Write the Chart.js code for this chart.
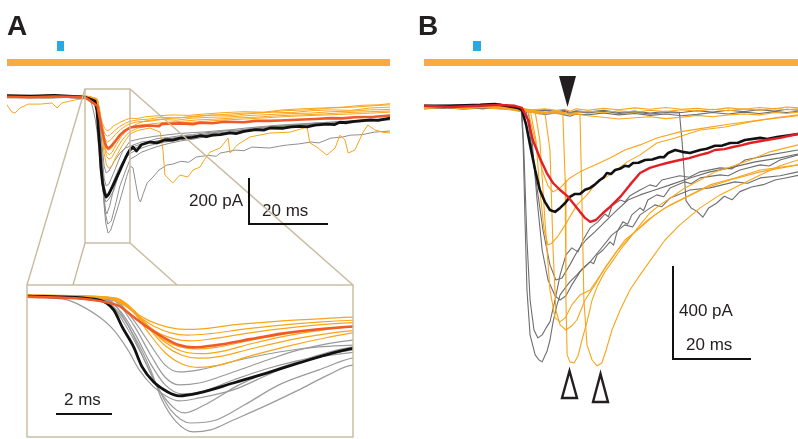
<!DOCTYPE html>
<html>
<head>
<meta charset="utf-8">
<script src="https://cdn.jsdelivr.net/npm/chart.js@4.4.1/dist/chart.umd.min.js"></script>
<style>
  html, body { margin: 0; padding: 0; background: #fff; width: 798px; height: 439px; overflow: hidden; }
  canvas { position: absolute; }
  svg { position: absolute; left: 0; top: 0; }
</style>
</head>
<body>
<canvas id="traceA" width="383" height="170" style="left:7px;top:80px;width:383px;height:170px"></canvas>
<canvas id="zoomA" width="326" height="152" style="left:27px;top:285px;width:326px;height:152px"></canvas>
<canvas id="traceB" width="374" height="300" style="left:424px;top:80px;width:374px;height:300px"></canvas>

<svg width="798" height="439" viewBox="0 0 798 439">
  <g font-family="'Liberation Sans', Arial, sans-serif" fill="#231f20">
    <text x="7" y="35" font-size="28" font-weight="bold">A</text>
    <text x="418" y="35" font-size="28" font-weight="bold">B</text>
    <text x="243" y="206" font-size="17" text-anchor="end">200 pA</text>
    <text x="262" y="216" font-size="17">20 ms</text>
    <text x="64" y="405" font-size="17">2 ms</text>
    <text x="679" y="316" font-size="17">400 pA</text>
    <text x="686" y="350" font-size="17">20 ms</text>
  </g>
  <rect x="57" y="41" width="7" height="10" fill="#27aae1"/>
  <rect x="473" y="41" width="8" height="10" fill="#27aae1"/>
  <rect x="7" y="59" width="383" height="7" fill="#f9ab40"/>
  <rect x="424" y="59" width="374" height="7" fill="#f9ab40"/>
  <g stroke="#c9ba9e" stroke-width="1.4" fill="none">
    <rect x="85" y="89" width="45" height="154"/>
    <line x1="85" y1="89" x2="27" y2="285"/>
    <line x1="130" y1="89" x2="353" y2="285"/>
    <line x1="85" y1="243" x2="73" y2="285"/>
    <line x1="130" y1="243" x2="177" y2="285"/>
    <rect x="27" y="285" width="326" height="152"/>
  </g>
  <g stroke="#111" stroke-width="2" fill="none">
    <polyline points="249,178 249,224 328,224"/>
    <line x1="56" y1="414" x2="112" y2="414"/>
    <polyline points="673,266 673,359 751,359"/>
  </g>
  <polygon points="559,76 576,76 567.5,107" fill="#231f20"/>
  <g stroke="#231f20" stroke-width="2.4" fill="none" stroke-linejoin="miter">
    <polygon points="562,398 577,398 569.5,371"/>
    <polygon points="593,402 608,402 600.5,374"/>
  </g>
</svg>

<script>
// panel A : [time ms, current pA]
const aBlack = [[0,2],[6,0],[12,3],[18,-2],[20,-6],[22.3,-22],[22.8,-65],[23.1,-139],[23.5,-226],[23.8,-313],[24.2,-378],[24.7,-422],[25.1,-439],[25.8,-426],[27,-383],[28.2,-339],[29.3,-296],[30.5,-252],[31.2,-232],[31.9,-222],[32.8,-239],[34,-212],[36.2,-200],[38,-204],[40,-190],[42,-192],[43.8,-183],[47,-180],[49,-172],[50.5,-176],[52,-170],[54,-168],[56.5,-160],[58,-163],[60,-154],[63,-146],[65,-148],[66.6,-139],[70,-140],[72,-134],[74.2,-132],[76,-134],[78,-126],[81,-122],[83,-124],[84.3,-114],[86,-116],[88,-110],[92,-104],[94,-106],[97,-96]]
const aRed = [[0,-3],[6,-5],[12,-2],[18,-4],[20,-8],[22.9,-43],[23.5,-96],[24.1,-150],[24.7,-195],[25.1,-218],[25.6,-228],[26.4,-218],[27.6,-192],[28.7,-168],[29.9,-150],[31.2,-137],[33,-132],[36,-128],[38.5,-131],[39.2,-121],[44,-119],[47,-122],[49,-116],[52,-118],[55,-112],[60,-114],[63,-108],[66.6,-108],[69,-106],[72,-104],[78,-100],[82,-96],[85,-97],[88,-92],[93,-90],[97,-85]]

const aGray1 = [[0,-8],[5,-5],[10,-10],[15,-6],[19,-12],[20,-10],[21.2,-22],[21.6,-43],[22.3,-96],[22.8,-152],[23.3,-239],[23.7,-326],[24.2,-400],[24.7,-444],[25.1,-461],[25.8,-448],[27,-413],[28.2,-348],[29.3,-291],[31.2,-239],[33,-222],[35,-205],[37,-200],[40,-188],[43,-180],[46,-170],[48,-174],[50,-165],[54,-156],[56,-160],[58,-152],[62,-144],[66,-138],[68,-142],[70,-130],[74,-126],[78,-118],[80,-122],[82,-116],[86,-110],[90,-106],[94,-102],[97,-100]]
const aGray2 = [[0,-5],[7,-2],[14,-6],[19,-4],[21,-6],[22.3,-20],[22.9,-65],[23.5,-174],[24.1,-326],[24.5,-457],[25,-552],[25.6,-596],[26.2,-587],[27,-544],[28.2,-478],[29.3,-413],[30.3,-350],[31.2,-305],[31.9,-312],[32.6,-380],[33.3,-445],[33.8,-461],[34.5,-425],[35.5,-378],[37,-352],[38.5,-322],[40.5,-300],[42,-296],[44,-284],[46,-288],[48,-265],[51,-258],[53,-262],[54,-248],[58,-235],[60,-238],[62,-222],[66.5,-226],[69,-218],[71,-213],[74,-208],[77,-200],[79,-204],[82,-183],[85,-178],[87,-170],[90,-168],[93,-157],[97,-152]]
const aGray3 = [[0,0],[6,3],[12,-2],[18,1],[21,-5],[22.5,-15],[23.1,-109],[23.7,-239],[24.3,-391],[24.8,-500],[25.5,-557],[26.4,-544],[27.4,-478],[28.6,-391],[30,-326],[31.2,-274],[32.5,-262],[34,-245],[36,-232],[38,-220],[41,-206],[44,-195],[47,-188],[50,-178],[53,-172],[57,-160],[60,-156],[64,-145],[68,-140],[72,-128],[76,-124],[80,-118],[84,-116],[88,-110],[92,-106],[97,-100]]
const aGray4 = [[0,-4],[6,-6],[12,-3],[18,-7],[21,-8],[22.6,-20],[23.3,-130],[23.8,-261],[24.4,-413],[25,-500],[25.3,-513],[26,-478],[27.2,-391],[28.6,-318],[30,-261],[31.2,-226],[33,-214],[35,-204],[38,-196],[41,-186],[44,-181],[47,-174],[50,-168],[54,-160],[58,-150],[62,-144],[66,-135],[70,-131],[74,-125],[78,-122],[82,-115],[86,-112],[90,-108],[94,-104],[97,-100]]
const aGray5 = [[0,-2],[6,-4],[12,0],[18,-3],[21,-4],[22.8,-25],[23.5,-130],[24.1,-261],[24.6,-357],[25.1,-391],[25.8,-383],[27,-335],[28.2,-283],[29.3,-239],[31.2,-196],[34,-185],[37,-176],[40,-170],[43,-164],[46,-160],[50,-156],[54,-150],[57,-146],[60,-140],[65,-132],[70,-125],[75,-120],[80,-115],[85,-110],[90,-105],[97,-98]]
const aGray6 = [[0,-5],[6,-3],[12,-6],[18,-4],[21,-6],[22.8,-20],[23.5,-109],[24.1,-218],[24.6,-304],[25.1,-335],[25.8,-326],[27.2,-283],[28.6,-248],[30,-226],[31.2,-218],[34,-200],[36,-196],[38,-185],[41,-180],[44,-172],[47,-168],[50,-160],[53,-156],[56,-150],[59,-148],[62,-140],[66,-134],[70,-128],[74,-124],[78,-118],[82,-116],[86,-110],[90,-108],[94,-104],[97,-98]]
const aGray7 = [[0,-6],[6,-9],[12,-4],[18,-8],[21,-10],[22.6,-25],[23.1,-80],[23.6,-180],[24.1,-300],[24.6,-390],[25.2,-430],[25.9,-420],[27,-370],[28.2,-320],[29.5,-280],[31.2,-250],[33,-232],[36,-215],[40,-200],[44,-190],[48,-178],[52,-170],[57,-158],[62,-150],[68,-140],[74,-130],[80,-122],[86,-115],[92,-110],[97,-104]]

const aOrange1 = [[0,-3],[5,2],[10,-4],[15,0],[19,-2],[21,-4],[22.5,-12],[23.1,-40],[23.6,-80],[24.1,-115],[24.7,-140],[25.3,-150],[26,-146],[27,-130],[28.5,-115],[30,-104],[31.2,-96],[33,-98],[35,-90],[38,-86],[42,-82],[46,-84],[50,-78],[55,-72],[60,-68],[65,-70],[70,-60],[75,-55],[80,-52],[85,-48],[90,-40],[94,-38],[97,-33]]
const aOrange2 = [[0,2],[5,-2],[10,3],[15,-1],[19,2],[21,-3],[22.6,-10],[23.2,-45],[23.7,-95],[24.2,-135],[24.8,-165],[25.4,-175],[26.2,-168],[27.3,-150],[28.6,-132],[30,-118],[31.2,-110],[33,-104],[36,-100],[39,-92],[43,-96],[47,-88],[52,-82],[57,-84],[62,-76],[67,-70],[72,-72],[77,-64],[82,-60],[87,-62],[92,-52],[97,-48]]
const aOrange3 = [[0,-4],[5,-1],[10,-6],[15,-2],[19,-5],[21,-6],[22.8,-15],[23.3,-55],[23.8,-110],[24.3,-160],[24.9,-190],[25.5,-200],[26.3,-190],[27.4,-168],[28.8,-145],[30.2,-128],[31.2,-120],[33,-112],[36,-110],[39,-102],[43,-105],[47,-96],[52,-92],[57,-90],[62,-84],[67,-80],[72,-76],[77,-74],[82,-68],[87,-66],[92,-60],[97,-58]]
const aOrange4 = [[0,0],[5,3],[10,-2],[15,2],[19,-1],[21,-4],[22.8,-12],[23.4,-60],[23.9,-125],[24.5,-190],[25.1,-225],[25.7,-235],[26.4,-228],[27.5,-200],[28.9,-168],[30.2,-148],[31.2,-138],[33,-128],[36,-122],[40,-115],[44,-110],[48,-104],[53,-100],[58,-95],[63,-92],[68,-86],[74,-82],[80,-78],[86,-72],[92,-68],[97,-65]]
const aOrange5 = [[0,-6],[5,-3],[10,-8],[15,-4],[19,-7],[21,-8],[23,-20],[23.5,-70],[24,-140],[24.6,-220],[25.2,-262],[25.8,-275],[26.5,-268],[27.6,-235],[29,-195],[30.3,-168],[31.2,-155],[33,-140],[36,-130],[40,-124],[45,-116],[50,-110],[55,-104],[60,-100],[66,-94],[72,-88],[78,-84],[84,-80],[90,-76],[97,-70]]
const aOrange6 = [[0,3],[5,0],[10,4],[15,1],[19,3],[21,-2],[22.9,-14],[23.5,-65],[24,-135],[24.6,-205],[25.2,-245],[25.9,-255],[26.6,-245],[27.7,-210],[29,-175],[30.3,-150],[31.2,-138],[33,-120],[35,-108],[38,-102],[42,-96],[46,-92],[50,-86],[55,-80],[60,-74],[65,-72],[70,-64],[76,-60],[82,-52],[88,-48],[93,-42],[97,-38]]
const aOrange7 = [[0,-39],[1.3,-70],[2,-74],[3.3,-52],[5.3,-35],[8.4,-35],[11.4,-30],[12.7,-52],[13.9,-30],[17.2,-17],[19.8,-9],[21,-8],[22.9,-18],[23.5,-75],[24,-160],[24.6,-250],[25.2,-300],[25.8,-315],[26.5,-305],[27.6,-265],[29,-220],[30.3,-185],[31.2,-165],[33,-150],[36.2,-139],[38.8,-157],[39.5,-235],[40,-344],[42,-378],[43.8,-344],[45.8,-352],[47.1,-322],[48.9,-309],[49.6,-287],[51.4,-244],[54,-226],[56,-183],[56.5,-248],[58.3,-213],[61.5,-178],[66.6,-161],[71.7,-157],[76,-135],[76.7,-204],[78.5,-222],[81,-257],[83.1,-226],[84.3,-170],[85.6,-191],[86.4,-248],[88.1,-235],[90.2,-157],[91.4,-126],[93.2,-148],[95.2,-157],[97,-161]]

// panel B : [time ms, current pA]
const bBlack = [[0,9],[6.7,9],[14.4,13],[18.2,17],[20.8,9],[24.1,0],[25.1,-9],[26.2,-73],[27.2,-159],[28.5,-267],[29.7,-353],[31,-404],[32.3,-439],[33.6,-447],[34.9,-430],[36.2,-409],[37.4,-383],[38.7,-370],[40,-370],[41.3,-352],[42.6,-344],[43.8,-330],[45.1,-310],[46,-300],[46.9,-280],[48,-284],[49,-267],[50.2,-262],[51.5,-249],[52.5,-252],[53.6,-237],[55,-236],[56.7,-224],[58.5,-222],[60.5,-211],[61.5,-212],[62.6,-194],[64.4,-181],[66.2,-189],[68.2,-194],[70.8,-181],[72.5,-176],[74.6,-163],[76.5,-162],[78.5,-151],[80.5,-150],[82.3,-138],[86.2,-129],[88,-134],[90.5,-125],[95.9,-112]]
const bRed = [[0,9],[6.7,4],[14.4,9],[19.5,13],[23.3,9],[25.1,0],[26.7,-52],[27.9,-138],[29.7,-215],[31.5,-280],[33.1,-323],[34.9,-353],[36.7,-378],[38.2,-409],[40,-447],[41.3,-473],[42.6,-490],[44.1,-482],[45.9,-452],[47.7,-426],[50.3,-383],[52.8,-331],[55.4,-280],[57.9,-258],[60.5,-245],[62.3,-237],[65.6,-224],[68,-216],[70.8,-202],[72.7,-194],[74.6,-181],[77,-177],[79.2,-168],[81.5,-160],[83.6,-151],[87.9,-138],[91.3,-129],[95.9,-112]]

const bGray1 = [[0,5],[5,10],[10,4],[15,12],[19,8],[22,4],[25,-5],[28,-12],[31,-8],[34,-16],[36,-10],[37.5,-20],[39,-12],[42,-18],[46,-10],[50,-20],[54,-14],[58,-22],[62,-15],[66,-20],[70,-12],[74,-18],[78,-10],[82,-16],[86,-8],[90,-14],[93,-6],[96,-10]]
const bGray2 = [[0,-4],[5,2],[10,-6],[15,0],[19,-2],[22,-6],[25,-14],[28,-20],[31,-28],[34,-22],[36,-30],[37.5,-36],[39,-26],[42,-30],[46,-22],[50,-30],[54,-24],[58,-32],[62,-26],[66,-34],[70,-28],[74,-20],[78,-26],[82,-18],[86,-24],[90,-16],[93,-20],[96,-14]]
const bGray3 = [[0,2],[5,-2],[10,6],[15,-4],[19,4],[22,0],[25,-8],[28,-16],[31,-10],[34,-20],[36,-14],[37.5,-24],[39,-16],[42,-22],[46,-14],[50,-24],[54,-18],[58,-26],[62,-20],[65.5,-22],[66.2,-150],[67.2,-400],[68.5,-430],[70,-445],[71.5,-470],[73,-430],[75,-410],[77,-380],[79,-395],[81,-360],[84,-340],[87,-330],[90,-310],[93,-300],[96,-290]]
const bGray4 = [[0,4],[14.4,9],[22.1,9],[24.9,0],[25.4,-138],[25.9,-482],[26.4,-783],[27.2,-976],[28.5,-1062],[29.5,-1084],[30.3,-1092],[31,-1066],[31.5,-1049],[32.3,-998],[33.1,-920],[34.1,-847],[34.9,-804],[36.2,-774],[37.4,-748],[39.2,-718],[40.8,-688],[42.6,-662],[43.5,-670],[44.4,-632],[45.9,-611],[47.7,-576],[48.6,-590],[49.5,-533],[51,-490],[52.2,-500],[53.3,-460],[55.4,-430],[56.3,-442],[57.4,-396],[59.7,-374],[61.5,-382],[63.1,-344],[66.9,-318],[68.5,-326],[70.8,-301],[75.9,-288],[78,-292],[81,-267],[86.2,-245],[88.5,-250],[91.3,-224],[95.9,-202]]
const bGray5 = [[0,0],[19.5,9],[25.1,-9],[25.6,-181],[26.4,-568],[27.2,-826],[28.2,-955],[29.2,-989],[30.3,-976],[31.3,-946],[32.3,-920],[33.6,-826],[34.9,-718],[36.4,-632],[37.9,-602],[39.5,-619],[40.8,-568],[42.6,-516],[44.6,-490],[46.4,-456],[47.3,-468],[48.2,-421],[50.3,-396],[51.5,-404],[52.8,-378],[55.4,-353],[57.9,-331],[59.5,-338],[61,-310],[65.6,-292],[68,-298],[70.8,-275],[75.9,-258],[79,-262],[82.3,-224],[88.7,-202],[95.9,-181]]
const bGray6 = [[0,4],[20.8,13],[26.7,-9],[27.7,-138],[29,-396],[30.3,-611],[31.8,-740],[33.6,-808],[34.9,-826],[36.4,-808],[37.9,-761],[40,-705],[42.6,-662],[45.1,-611],[48.2,-546],[51.5,-503],[53.5,-512],[55.4,-460],[59.2,-417],[61,-425],[63.1,-387],[68.2,-353],[73.3,-344],[79.7,-318],[83,-324],[86.2,-301],[91.3,-292],[95.9,-275]]
const bGray7 = [[0,9],[19.5,17],[26.2,-9],[27.2,-116],[28.7,-310],[30.5,-525],[32.3,-675],[33.8,-740],[35.4,-731],[37.4,-675],[39.5,-611],[41.5,-568],[43.8,-533],[46.4,-490],[49,-447],[52.3,-396],[55.4,-374],[59.2,-353],[63.1,-331],[68.2,-301],[73.3,-275],[78.5,-258],[84.9,-232],[91.3,-215],[95.9,-198]]

const bOrange1 = [[0,0],[5,6],[10,-4],[15,4],[19,0],[22,-4],[25,-10],[28,-18],[31,-22],[34,-14],[36,-22],[37.5,-30],[39,-26],[42,-34],[46,-40],[50,-48],[54,-42],[58,-38],[62,-46],[66,-40],[70,-32],[74,-38],[78,-30],[82,-26],[86,-30],[90,-20],[93,-24],[96,-18]]
const bOrange2 = [[0,8],[5,2],[10,10],[15,6],[19,12],[22,6],[25,-4],[28,-8],[31,-4],[34,-10],[36,-6],[37.5,-14],[39,-4],[42,-10],[46,-2],[50,-8],[54,0],[58,-6],[62,2],[66,-6],[70,-2],[74,-8],[78,0],[82,-6],[86,2],[90,-4],[93,4],[96,0]]
const bOrange3 = [[0,-2],[5,4],[10,-2],[15,2],[19,-4],[22,-8],[25,-16],[28,-10],[31,-18],[34,-12],[36,-20],[37.5,-28],[39,-20],[42,-14],[46,-20],[50,-12],[54,-18],[58,-10],[62,-16],[66,-8],[70,-14],[74,-6],[78,-12],[82,-4],[86,-10],[90,-2],[93,-8],[96,-4]]
const bOrange4 = [[0,4],[11.8,13],[20.8,9],[24.6,-9],[29.7,-26],[33.6,-17],[35.6,-26],[36.2,-310],[36.4,-826],[36.7,-1062],[37.4,-1092],[38.5,-1097],[39.5,-1066],[40.5,-998],[41.8,-920],[43.1,-826],[44.6,-761],[46.4,-705],[48.2,-662],[50.3,-611],[52.8,-559],[55.4,-503],[57.9,-452],[60.5,-417],[63.6,-383],[66.9,-344],[70.8,-310],[74.6,-275],[78.5,-254],[83.6,-224],[88.7,-189],[95.9,-159]]
const bOrange5 = [[0,0],[11.8,9],[20.8,4],[24.6,-9],[29.7,-17],[34.9,-26],[38.7,-22],[40,-30],[40.5,-396],[41,-826],[41.8,-1019],[43.1,-1084],[44.4,-1109],[45.6,-1097],[46.7,-1041],[48.2,-955],[50.3,-869],[52.8,-783],[55.4,-718],[58.5,-645],[61.8,-568],[65.6,-503],[70.8,-430],[75.9,-374],[81,-331],[86.2,-288],[91.3,-249],[95.9,-224]]
const bOrange6 = [[0,9],[14.4,4],[23.3,4],[27.2,-9],[28.7,-138],[29.7,-353],[30.8,-525],[31.8,-589],[32.8,-581],[34.4,-550],[36.2,-503],[39.2,-417],[41.8,-374],[44.4,-318],[47.7,-288],[52.1,-232],[55.4,-202],[59.7,-151],[64.4,-129],[70.8,-95],[77.2,-82],[83.6,-60],[90,-43],[95.9,-30]]
const bOrange7 = [[0,0],[14.4,9],[23.3,0],[26.7,-17],[28.5,-138],[30.3,-267],[31.8,-335],[33.1,-361],[34.9,-344],[37.4,-301],[40,-275],[43.8,-245],[47.7,-215],[51.5,-181],[55.4,-159],[59.7,-129],[65.6,-103],[72.1,-86],[78.5,-69],[86.2,-52],[95.9,-34]]
const bOrange8 = [[0,4],[19.5,9],[24.6,0],[28.5,-17],[29.7,-138],[31,-482],[32.3,-783],[33.6,-903],[34.9,-920],[36.2,-903],[37.9,-847],[40,-804],[42.6,-783],[45.1,-722],[48.2,-645],[51.5,-568],[55.4,-516],[59.2,-460],[63.1,-417],[68.2,-374],[73.3,-331],[79.7,-301],[86.2,-267],[95.9,-245]]
const bOrange9 = [[0,0],[19.5,4],[25.9,-9],[31,-22],[32.3,-181],[33.1,-611],[33.8,-869],[34.9,-933],[36.4,-955],[37.9,-937],[39.2,-912],[41.3,-826],[43.8,-761],[46.4,-688],[49.7,-611],[53.3,-546],[57.4,-482],[61.8,-430],[66.9,-387],[72.1,-344],[78.5,-310],[86.2,-275],[95.9,-245]]

const grayA = [aGray1, aGray2, aGray3, aGray4, aGray5, aGray6, aGray7]
const orangeA = [aOrange1, aOrange2, aOrange3, aOrange4, aOrange5, aOrange6, aOrange7]
const grayB = [bGray1, bGray2, bGray3, bGray4, bGray5, bGray6, bGray7]
const orangeB = [bOrange1, bOrange2, bOrange3, bOrange4, bOrange5, bOrange6, bOrange7, bOrange8, bOrange9]

const ORANGE = '#f9a51b'

function trace(points, color, width) {
    return {
        data: points.map(p => ({ x: p[0], y: p[1] })),
        borderColor: color,
        borderWidth: width,
        pointRadius: 0,
        fill: false,
    }
}

function drawTraces(id, datasets, xRange, yRange, smooth) {
    new Chart(document.getElementById(id), {
        type: 'line',
        data: { datasets: datasets },
        options: {
            responsive: false,
            animation: false,
            events: [],
            layout: { padding: 0 },
            elements: {
                line: {
                    tension: 0,
                    cubicInterpolationMode: smooth ? 'monotone' : 'default',
                    borderJoinStyle: 'round',
                    borderCapStyle: 'round',
                }
            },
            plugins: { legend: { display: false }, tooltip: { enabled: false } },
            scales: {
                x: { type: 'linear', display: false, min: xRange[0], max: xRange[1] },
                y: { type: 'linear', display: false, min: yRange[0], max: yRange[1] },
            }
        }
    })
}

// first dataset is painted on top
drawTraces('traceA', [
    trace(aRed, '#f05a28', 2.6),
    trace(aBlack, '#111', 2.8),
    ...orangeA.map(t => trace(t, ORANGE, 1)),
    ...grayA.map(t => trace(t, '#8e8e8e', 1)),
], [0, 97], [-670, 70], false)

drawTraces('zoomA', [
    trace(aRed, '#f05a28', 2.6),
    trace(aBlack, '#111', 2.8),
    ...orangeA.map(t => trace(t, ORANGE, 1.2)),
    ...grayA.map(t => trace(t, '#9a9a9a', 1.2)),
], [19.76, 31.2], [-618, 43.5], true)

drawTraces('traceB', [
    trace(bRed, '#e41e26', 2.4),
    trace(bBlack, '#111', 2.6),
    ...orangeB.map(t => trace(t, ORANGE, 1.1)),
    ...grayB.map(t => trace(t, '#6e6e6e', 1.1)),
], [0, 95.9], [-1170, 120], false)
</script>
</body>
</html>
